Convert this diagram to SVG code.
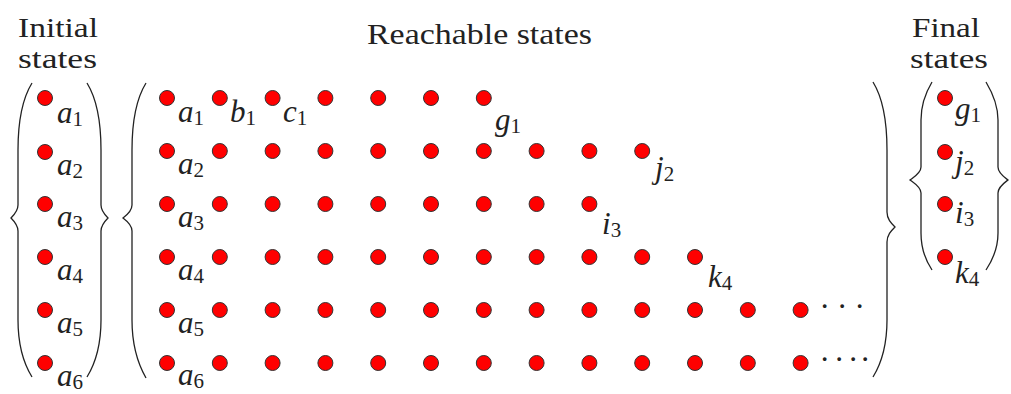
<svg xmlns="http://www.w3.org/2000/svg" xmlns:xlink="http://www.w3.org/1999/xlink" width="1011" height="394" viewBox="0 0 1011 394" font-family="'Liberation Serif', 'DejaVu Serif', 'Times New Roman', serif">
<style>
.dot{fill:#ff0000;stroke:#333;stroke-width:1}
.lbl{font-family:'Liberation Serif','DejaVu Serif',serif;font-style:italic;font-size:31px;fill:#222}
.sub{font-style:normal;font-size:21px}
.title{font-family:'Liberation Serif','DejaVu Serif',serif;font-size:27px;fill:#222}
.brace{fill:none;stroke:#222;stroke-width:1.3}
.ell{font-family:'Liberation Serif','DejaVu Serif',serif;font-size:31px;fill:#222}
</style>
<defs>
<circle id="d" r="7.5" class="dot"/>
</defs>
<rect width="1011" height="394" fill="#fff"/>
<g id="titles">
<text class="title" x="18" y="37" textLength="80" lengthAdjust="spacingAndGlyphs">Initial</text>
<text class="title" x="18" y="68" textLength="79" lengthAdjust="spacingAndGlyphs">states</text>
<text class="title" x="367" y="44" textLength="225" lengthAdjust="spacingAndGlyphs" style="font-size:30px">Reachable states</text>
<text class="title" x="912" y="37" textLength="68" lengthAdjust="spacingAndGlyphs">Final</text>
<text class="title" x="910" y="68" textLength="78" lengthAdjust="spacingAndGlyphs">states</text>
</g>
<g id="braces">
<path class="brace" d="M32,83 C24,96 18,118 18,150 L18,205 C18,211 14,215 11,218 C14,221 18,225 18,231 L18,320 C18,345 24,364 32,377"/>
<path class="brace" d="M87,83 C95,96 101,118 101,150 L101,205 C101,211 105,215 108,218 C105,221 101,225 101,231 L101,320 C101,345 95,364 87,377"/>
<path class="brace" d="M146,83 C138,96 132,118 132,150 L132,205 C132,211 127,215 123,218 C127,221 132,225 132,231 L132,320 C132,345 138,364 146,378"/>
<path class="brace" d="M873,82 C881,95 887,118 887,150 L887,212 C887,219 891,223 895,227 C891,231 887,235 887,242 L887,320 C887,345 881,364 873,377"/>
<path class="brace" d="M932,82 C926,92 921,104 921,120 L921,167 C921,173 914,177 910,180 C914,183 921,187 921,193 L921,233 C921,249 926,261 932,270"/>
<path class="brace" d="M986,82 C992,92 998,104 998,120 L998,167 C998,173 1004,177 1008,180 C1004,183 998,187 998,193 L998,233 C998,249 992,261 986,270"/>
</g>
<g id="connectors"></g>
<!-- Initial states -->
<g id="init-a1"><use href="#d" x="45" y="98"/><text class="lbl" x="57" y="123">a<tspan class="sub" dy="3">1</tspan></text></g>
<g id="init-a2"><use href="#d" x="45" y="152"/><text class="lbl" x="57" y="175">a<tspan class="sub" dy="3">2</tspan></text></g>
<g id="init-a3"><use href="#d" x="45" y="204"/><text class="lbl" x="57" y="227">a<tspan class="sub" dy="3">3</tspan></text></g>
<g id="init-a4"><use href="#d" x="45" y="257"/><text class="lbl" x="57" y="280">a<tspan class="sub" dy="3">4</tspan></text></g>
<g id="init-a5"><use href="#d" x="45" y="310"/><text class="lbl" x="57" y="333">a<tspan class="sub" dy="3">5</tspan></text></g>
<g id="init-a6"><use href="#d" x="45" y="363"/><text class="lbl" x="57" y="386">a<tspan class="sub" dy="3">6</tspan></text></g>
<!-- Reachable: row 1 -->
<g id="r1c1"><use href="#d" x="167" y="98"/><text class="lbl" x="178" y="122">a<tspan class="sub" dy="3">1</tspan></text></g>
<g id="r1c2"><use href="#d" x="219.8" y="98"/><text class="lbl" x="230" y="122">b<tspan class="sub" dy="3">1</tspan></text></g>
<g id="r1c3"><use href="#d" x="272.6" y="98"/><text class="lbl" x="283" y="122">c<tspan class="sub" dy="3">1</tspan></text></g>
<g id="r1c4"><use href="#d" x="325.4" y="98"/></g>
<g id="r1c5"><use href="#d" x="378.2" y="98"/></g>
<g id="r1c6"><use href="#d" x="431" y="98"/></g>
<g id="r1c7"><use href="#d" x="483.8" y="98"/><text class="lbl" x="495" y="130">g<tspan class="sub" dy="3">1</tspan></text></g>
<!-- row 2 -->
<g id="r2c1"><use href="#d" x="167" y="151"/><text class="lbl" x="178" y="174">a<tspan class="sub" dy="3">2</tspan></text></g>
<g id="r2c2"><use href="#d" x="219.8" y="151"/></g>
<g id="r2c3"><use href="#d" x="272.6" y="151"/></g>
<g id="r2c4"><use href="#d" x="325.4" y="151"/></g>
<g id="r2c5"><use href="#d" x="378.2" y="151"/></g>
<g id="r2c6"><use href="#d" x="431" y="151"/></g>
<g id="r2c7"><use href="#d" x="483.8" y="151"/></g>
<g id="r2c8"><use href="#d" x="536.6" y="151"/></g>
<g id="r2c9"><use href="#d" x="589.4" y="151"/></g>
<g id="r2c10"><use href="#d" x="642.2" y="151"/><text class="lbl" x="655" y="178">j<tspan class="sub" dy="3">2</tspan></text></g>
<!-- row 3 -->
<g id="r3c1"><use href="#d" x="167" y="204"/><text class="lbl" x="178" y="227">a<tspan class="sub" dy="3">3</tspan></text></g>
<g id="r3c2"><use href="#d" x="219.8" y="204"/></g>
<g id="r3c3"><use href="#d" x="272.6" y="204"/></g>
<g id="r3c4"><use href="#d" x="325.4" y="204"/></g>
<g id="r3c5"><use href="#d" x="378.2" y="204"/></g>
<g id="r3c6"><use href="#d" x="431" y="204"/></g>
<g id="r3c7"><use href="#d" x="483.8" y="204"/></g>
<g id="r3c8"><use href="#d" x="536.6" y="204"/></g>
<g id="r3c9"><use href="#d" x="589.4" y="204"/><text class="lbl" x="602" y="234">i<tspan class="sub" dy="3">3</tspan></text></g>
<!-- row 4 -->
<g id="r4c1"><use href="#d" x="167" y="257"/><text class="lbl" x="178" y="280">a<tspan class="sub" dy="3">4</tspan></text></g>
<g id="r4c2"><use href="#d" x="219.8" y="257"/></g>
<g id="r4c3"><use href="#d" x="272.6" y="257"/></g>
<g id="r4c4"><use href="#d" x="325.4" y="257"/></g>
<g id="r4c5"><use href="#d" x="378.2" y="257"/></g>
<g id="r4c6"><use href="#d" x="431" y="257"/></g>
<g id="r4c7"><use href="#d" x="483.8" y="257"/></g>
<g id="r4c8"><use href="#d" x="536.6" y="257"/></g>
<g id="r4c9"><use href="#d" x="589.4" y="257"/></g>
<g id="r4c10"><use href="#d" x="642.2" y="257"/></g>
<g id="r4c11"><use href="#d" x="695" y="257"/><text class="lbl" x="708" y="287">k<tspan class="sub" dy="3">4</tspan></text></g>
<!-- row 5 -->
<g id="r5c1"><use href="#d" x="167" y="310"/><text class="lbl" x="178" y="333">a<tspan class="sub" dy="3">5</tspan></text></g>
<g id="r5c2"><use href="#d" x="219.8" y="310"/></g>
<g id="r5c3"><use href="#d" x="272.6" y="310"/></g>
<g id="r5c4"><use href="#d" x="325.4" y="310"/></g>
<g id="r5c5"><use href="#d" x="378.2" y="310"/></g>
<g id="r5c6"><use href="#d" x="431" y="310"/></g>
<g id="r5c7"><use href="#d" x="483.8" y="310"/></g>
<g id="r5c8"><use href="#d" x="536.6" y="310"/></g>
<g id="r5c9"><use href="#d" x="589.4" y="310"/></g>
<g id="r5c10"><use href="#d" x="642.2" y="310"/></g>
<g id="r5c11"><use href="#d" x="695" y="310"/></g>
<g id="r5c12"><use href="#d" x="747.8" y="310"/></g>
<g id="r5c13"><use href="#d" x="800.6" y="310"/><text class="ell" x="819.5 837 854.5" y="317">···</text></g>
<!-- row 6 -->
<g id="r6c1"><use href="#d" x="167" y="363"/><text class="lbl" x="178" y="385">a<tspan class="sub" dy="3">6</tspan></text></g>
<g id="r6c2"><use href="#d" x="219.8" y="363"/></g>
<g id="r6c3"><use href="#d" x="272.6" y="363"/></g>
<g id="r6c4"><use href="#d" x="325.4" y="363"/></g>
<g id="r6c5"><use href="#d" x="378.2" y="363"/></g>
<g id="r6c6"><use href="#d" x="431" y="363"/></g>
<g id="r6c7"><use href="#d" x="483.8" y="363"/></g>
<g id="r6c8"><use href="#d" x="536.6" y="363"/></g>
<g id="r6c9"><use href="#d" x="589.4" y="363"/></g>
<g id="r6c10"><use href="#d" x="642.2" y="363"/></g>
<g id="r6c11"><use href="#d" x="695" y="363"/></g>
<g id="r6c12"><use href="#d" x="747.8" y="363"/></g>
<g id="r6c13"><use href="#d" x="800.6" y="363"/><text class="ell" x="819.5 834 848 860" y="370">····</text></g>
<!-- Final states -->
<g id="fin-g1"><use href="#d" x="945" y="98"/><text class="lbl" x="955" y="119">g<tspan class="sub" dy="3">1</tspan></text></g>
<g id="fin-j2"><use href="#d" x="945" y="152"/><text class="lbl" x="955" y="172">j<tspan class="sub" dy="3">2</tspan></text></g>
<g id="fin-i3"><use href="#d" x="945" y="204"/><text class="lbl" x="955" y="223">i<tspan class="sub" dy="3">3</tspan></text></g>
<g id="fin-k4"><use href="#d" x="945" y="257"/><text class="lbl" x="955" y="283">k<tspan class="sub" dy="3">4</tspan></text></g>
</svg>
